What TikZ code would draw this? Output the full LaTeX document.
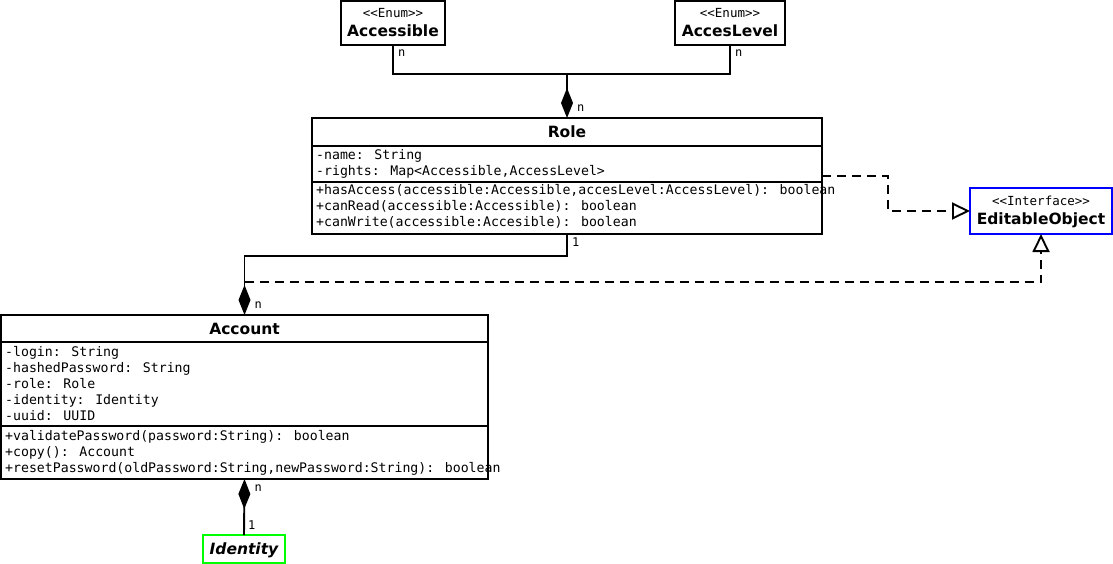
\documentclass[tikz,border=0pt]{standalone}
\usepackage{fontspec}
\setmainfont{DejaVu Sans}
\newfontfamily\monofont{DejaVu Sans Mono}
\usetikzlibrary{arrows.meta,calc}
\definecolor{ifaceblue}{RGB}{0,0,255}
\definecolor{identgreen}{RGB}{0,255,0}
\begin{document}
\begin{tikzpicture}[x=1pt,y=-1pt,
  box/.style={draw, line width=1.9pt, inner sep=0pt, outer sep=0pt, rectangle, anchor=north west},
  title/.style={font=\fontsize{15.5}{18}\selectfont\bfseries},
  stereo/.style={anchor=base, inner sep=0pt, font=\fontsize{12.5}{14}\monofont},
  tname/.style={anchor=base, inner sep=0pt, font=\fontsize{15.5}{18}\selectfont\bfseries},
  member/.style={anchor=base west, inner sep=0pt, font=\fontsize{13.2}{16}\monofont},
  mult/.style={anchor=west, inner sep=0pt, font=\fontsize{12}{13}\monofont},
  link/.style={line width=1.9pt},
  comp/.style={link, -{Diamond[length=30pt,width=12pt]}},
  real/.style={link, dash pattern=on 9pt off 6pt, -{Triangle[open,length=18pt,width=17pt,fill=white]}}
]
\fill[white] (0,0) rectangle (1113,564);
\useasboundingbox (0,0) rectangle (1113,564);

% enumerations
\node[box, minimum width=104pt, minimum height=44pt] (acc) at (341,1) {};
\node[stereo] (accS) at ($(acc.north)+(0,17)$) {<<Enum>>};
\node[tname] (accN) at ($(acc.north)+(0,36)$) {Accessible};

\node[box, minimum width=110pt, minimum height=44pt] (acl) at (675,1) {};
\node[stereo] (aclS) at ($(acl.north)+(0,17)$) {<<Enum>>};
\node[tname] (aclN) at ($(acl.north)+(0,36)$) {AccesLevel};

% interface
\node[box, draw=ifaceblue, minimum width=142pt, minimum height=46pt] (iface) at (970,188) {};
\node[stereo] (ifaceS) at ($(iface.north)+(0,17)$) {<<Interface>>};
\node[tname] (ifaceN) at ($(iface.north)+(0,36)$) {EditableObject};

% class Role
\node[box, title, minimum width=510pt, minimum height=28pt] (roleT) at (312,118) {Role};
\node[box, minimum width=510pt, minimum height=36pt] (roleA) at (roleT.south west) {};
\node[box, minimum width=510pt, minimum height=52pt] (roleM) at (roleA.south west) {};
\node[member] (ra1) at ($(roleA.north west)+(4,13.5)$) {-name: String};
\node[member] (ra2) at ($(ra1.base west)+(0,16)$) {-rights: Map<Accessible,AccessLevel>};
\node[member] (rm1) at ($(roleM.north west)+(4,12.5)$) {+hasAccess(accessible:Accessible,accesLevel:AccessLevel): boolean};
\node[member] (rm2) at ($(rm1.base west)+(0,16)$) {+canRead(accessible:Accessible): boolean};
\node[member] (rm3) at ($(rm2.base west)+(0,16)$) {+canWrite(accessible:Accesible): boolean};

% class Account
\node[box, title, minimum width=487pt, minimum height=27pt] (accT) at (1,315) {Account};
\node[box, minimum width=487pt, minimum height=84pt] (accA) at (accT.south west) {};
\node[box, minimum width=487pt, minimum height=53pt] (accM) at (accA.south west) {};
\node[member] (aa1) at ($(accA.north west)+(4,14)$) {-login: String};
\node[member] (aa2) at ($(aa1.base west)+(0,16)$) {-hashedPassword: String};
\node[member] (aa3) at ($(aa2.base west)+(0,16)$) {-role: Role};
\node[member] (aa4) at ($(aa3.base west)+(0,16)$) {-identity: Identity};
\node[member] (aa5) at ($(aa4.base west)+(0,16)$) {-uuid: UUID};
\node[member] (am1) at ($(accM.north west)+(4,14)$) {+validatePassword(password:String): boolean};
\node[member] (am2) at ($(am1.base west)+(0,16)$) {+copy(): Account};
\node[member] (am3) at ($(am2.base west)+(0,16)$) {+resetPassword(oldPassword:String,newPassword:String): boolean};

% Identity
\node[box, draw=identgreen, minimum width=82pt, minimum height=28pt,
      text height=11.3pt, text depth=0pt,
      font=\fontsize{15.5}{18}\selectfont\bfseries\itshape] (ident) at (203,535) {Identity};

% realizations of EditableObject
\coordinate (roleR) at ($(roleA.south east)+(0,-6)$);
\coordinate (accUp) at ($(accT.north)+(0,-33)$);
\draw[real] (roleR) -- ++(66,0) |- (iface.west);
\draw[real] (accUp) -| (iface.south);

% compositions
\coordinate (j1) at ($(roleT.north)+(0,-44)$);
\draw[link] (acc.south) |- (j1) -| (acl.south);
\draw[comp] (j1) -- (roleT.north);
\draw[comp] (roleM.south) -- ++(0,22) -| (accT.north);
\draw[link, {Diamond[length=30pt,width=12pt]}-] (accM.south) -- (ident.north);

% multiplicities
\node[mult] (m1) at ($(acc.south)+(5,8)$) {n};
\node[mult] (m2) at ($(acl.south)+(5,8)$) {n};
\node[mult] (m3) at ($(roleT.north)+(10,-10)$) {n};
\node[mult] (m4) at ($(roleM.south)+(5,8)$) {1};
\node[mult] (m5) at ($(accT.north)+(10,-10)$) {n};
\node[mult] (m6) at ($(accM.south)+(10,9)$) {n};
\node[mult] (m7) at ($(ident.north)+(4,-10)$) {1};
\end{tikzpicture}
\end{document}
